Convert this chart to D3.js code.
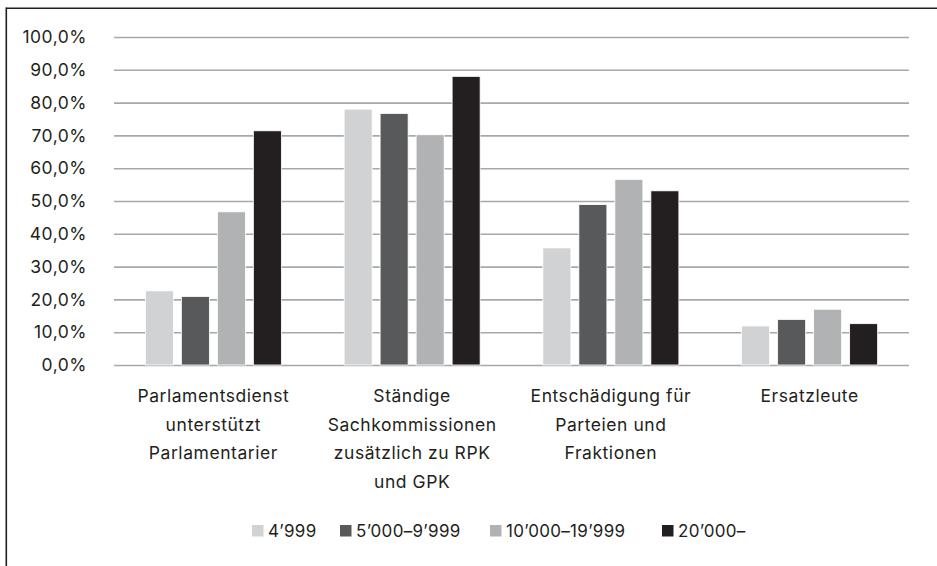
<!DOCTYPE html>
<html>
<head>
<meta charset="utf-8">
<script src="https://cdn.jsdelivr.net/npm/d3@7"></script>
<style>
	body { margin: 0; background: #fff; }
	svg { display: block; font-family: Inter, Roboto, "Noto Sans", sans-serif; }
</style>
</head>
<body>
<svg id="chart" width="937" height="566"></svg>
<script>
// data
const categories = [
	["Parlamentsdienst", "unterstützt", "Parlamentarier"],
	["Ständige", "Sachkommissionen", "zusätzlich zu RPK", "und GPK"],
	["Entschädigung für", "Parteien und", "Fraktionen"],
	["Ersatzleute"]
]
const series = ["4’999", "5’000–9’999", "10’000–19’999", "20’000–"]
const colors = ["#d1d2d4", "#58595b", "#b1b2b4", "#231f20"]
const values = [
	[22.6, 20.9, 46.7, 71.4],
	[78.0, 76.7, 70.2, 88.0],
	[35.7, 48.9, 56.6, 53.1],
	[11.9, 13.9, 17.0, 12.6]
]
const yTicks = [0, 10, 20, 30, 40, 50, 60, 70, 80, 90, 100]

var svg = d3.select("#chart"),
	plotLeft = 114,
	plotRight = 909,
	plotTop = 37,
	plotBottom = 365

// frame (top and left edges only)
svg.append("line").attr("x1", 6).attr("x2", 937).attr("y1", 8.3).attr("y2", 8.3)
	.attr("stroke", "#231f20").attr("stroke-width", 1.6)
svg.append("line").attr("x1", 6.3).attr("x2", 6.3).attr("y1", 7.5).attr("y2", 566)
	.attr("stroke", "#231f20").attr("stroke-width", 1.6)

var x0 = d3.scaleBand().domain(d3.range(categories.length)).range([plotLeft, plotRight])
		.paddingInner(0.2755).paddingOuter(0.1377),
	x1 = d3.scaleBand().domain(d3.range(series.length)).range([0, x0.bandwidth()])
		.paddingInner(0.222).paddingOuter(0.111),
	y = d3.scaleLinear().domain([0, 100]).range([plotBottom, plotTop])

// gridlines + y labels
var yAxis = svg.append("g")
	.attr("transform", "translate(" + plotLeft + ",0)")
	.call(d3.axisLeft(y).tickValues(yTicks)
		.tickSize(-(plotRight - plotLeft))
		.tickPadding(27)
		.tickFormat(function(d) { return d3.format(".1f")(d).replace(".", ",") + "%"; }))
yAxis.select(".domain").remove()
yAxis.selectAll(".tick line").attr("stroke", "#a7a8aa").attr("stroke-width", 1.6)
yAxis.selectAll(".tick text").attr("fill", "#231f20").attr("font-size", "17.5px")
	.attr("font-family", "Inter, Roboto, sans-serif").style("letter-spacing", "0.5px")

// bars
var groups = svg.append("g").selectAll("g")
	.data(values)
	.enter().append("g")
	.attr("transform", function(d, i) { return "translate(" + x0(i) + ",0)"; })

groups.selectAll("rect")
	.data(function(d) { return d; })
	.enter().append("rect")
	.attr("x", function(d, i) { return x1(i); })
	.attr("width", x1.bandwidth())
	.attr("y", function(d) { return y(d); })
	.attr("height", function(d) { return y(0) - y(d); })
	.attr("fill", function(d, i) { return colors[i]; })
	.attr("stroke", "#ffffff")
	.attr("stroke-width", 0.8)

// category labels
svg.append("g").selectAll("text")
	.data(categories)
	.enter().append("text")
	.attr("x", function(d, i) { return x0(i) + x0.bandwidth() / 2; })
	.attr("y", 402)
	.attr("text-anchor", "middle")
	.attr("font-size", "17.5px")
	.style("letter-spacing", "0.55px")
	.attr("fill", "#231f20")
	.each(function(d) {
		var t = d3.select(this)
		d.forEach(function(line, k) {
			t.append("tspan")
				.attr("x", t.attr("x"))
				.attr("y", 402 + k * 28.6)
				.text(line)
		})
	})

// legend
const legendX = [252, 340, 490, 662]
var legend = svg.append("g").selectAll("g")
	.data(series)
	.enter().append("g")
	.attr("transform", function(d, i) { return "translate(" + legendX[i] + ",525)"; })
legend.append("rect").attr("width", 11.5).attr("height", 11.5)
	.attr("fill", function(d, i) { return colors[i]; })
legend.append("text").attr("x", 16).attr("y", 12)
	.attr("font-size", "17px").style("letter-spacing", "0.3px").attr("fill", "#231f20")
	.text(function(d) { return d; })
</script>
</body>
</html>
